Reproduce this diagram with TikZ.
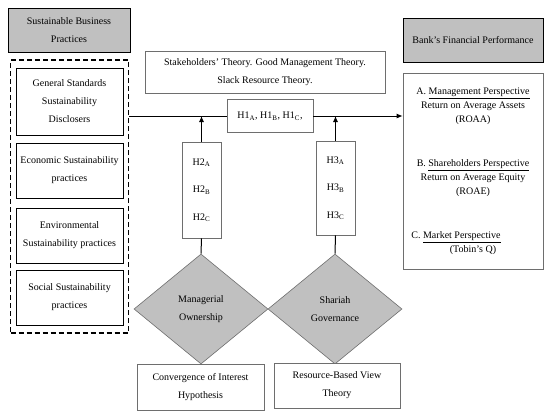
\documentclass[tikz,border=0pt]{standalone}
\usepackage{fontspec}
\setmainfont{Liberation Serif}
\usetikzlibrary{shapes.geometric, arrows.meta}
\definecolor{boxgray}{RGB}{192,192,192}
\definecolor{linegray}{RGB}{110,110,110}

\begin{document}
\begin{tikzpicture}[
    x=1pt, y=-1pt,
    font=\fontsize{10}{18}\selectfont,
    % Styles
    headbox/.style={
        rectangle,
        draw=black,
        line width=1pt,
        fill=boxgray,
        align=center,
        inner sep=0pt
    },
    practice/.style={
        rectangle,
        draw=black,
        line width=1pt,
        minimum width=107pt,
        minimum height=55pt,
        align=center,
        inner sep=0pt
    },
    thinbox/.style={
        rectangle,
        draw=linegray,
        line width=0.6pt,
        fill=white,
        align=center,
        inner sep=0pt
    },
    hypbox/.style={
        thinbox,
        minimum width=39pt,
        font=\fontsize{10}{27.5}\selectfont
    },
    factor/.style={
        diamond,
        draw=linegray,
        line width=0.6pt,
        fill=boxgray,
        minimum width=134pt,
        minimum height=110pt,
        inner sep=0pt,
        align=center
    },
    arrow/.style={
        -{Latex[length=6pt, width=5pt]},
        line width=1pt
    },
    link/.style={
        line width=1pt
    }
]
\useasboundingbox (0,0) rectangle (550,416);

% Left side: sustainable business practices
\node[headbox, minimum width=122pt, minimum height=44pt] (sbp) at (69,30)
    {Sustainable Business\\Practices};
\node[rectangle, draw=black, dash pattern=on 5pt off 3pt, line width=1.2pt,
      minimum width=118pt, minimum height=273pt] (group) at (69.5,196.5) {};
\node[practice, minimum height=67pt] (general) at (69.5,101.5)
    {General Standards\\Sustainability\\Disclosers};
\node[practice] (economic) at (69.5,170.5) {Economic Sustainability\\practices};
\node[practice] (environ) at (69.5,235.5) {Environmental\\Sustainability practices};
\node[practice] (social) at (69.5,297.5) {Social Sustainability\\practices};

% Theories and H1
\node[thinbox, minimum width=240pt, minimum height=42pt] (theory) at (265,72)
    {Stakeholders' Theory. Good Management Theory.\\Slack Resource Theory.};
\node[thinbox, minimum width=86pt, minimum height=33pt] (h1) at (270,116)
    {H1\textsubscript{A}, H1\textsubscript{B}, H1\textsubscript{C},};

% Right side: financial performance
\node[headbox, minimum width=140pt, minimum height=44pt] (bfp) at (473,40)
    {Bank's Financial Performance};
\node[thinbox, minimum width=140pt, minimum height=196pt,
      font=\fontsize{10}{14}\selectfont] (perf) at (473,171) {
    A. \underline{Management Perspective}\\
    Return on Average Assets\\
    (ROAA)\\[30pt]
    B. \underline{Shareholders Perspective}\\
    Return on Average Equity\\
    (ROAE)\\[30pt]
    C. \underline{Market Perspective}\hspace*{34pt}\mbox{}\\
    (Tobin's Q)
};

% Main path
\draw[link] (group.east |- h1.west) -- (h1.west);
\draw[arrow] (h1.east) -- (h1.east -| perf.west);

% Moderators
\node[hypbox, minimum height=96pt] (h2) at (201.5,190)
    {H2\textsubscript{A}\\H2\textsubscript{B}\\H2\textsubscript{C}};
\node[hypbox, minimum height=94pt] (h3) at (335.5,188)
    {H3\textsubscript{A}\\H3\textsubscript{B}\\H3\textsubscript{C}};
\draw[arrow] (h2.north) -- (h2.north |- h1.west);
\draw[arrow] (h3.north) -- (h3.north |- h1.west);

\node[factor] (mo) at (201,309) {Managerial\\Ownership};
\node[factor] (sg) at (335,309) {Shariah\\Governance};
\draw[link] (h2.south) -- (mo.north);
\draw[link] (h3.south) -- (sg.north);

% Supporting theories
\node[thinbox, minimum width=127pt, minimum height=46pt] (conv) at (200.5,387)
    {Convergence of Interest\\Hypothesis};
\node[thinbox, minimum width=126pt, minimum height=45pt] (rbv) at (337,385.5)
    {Resource-Based View\\Theory};

\end{tikzpicture}
\end{document}
